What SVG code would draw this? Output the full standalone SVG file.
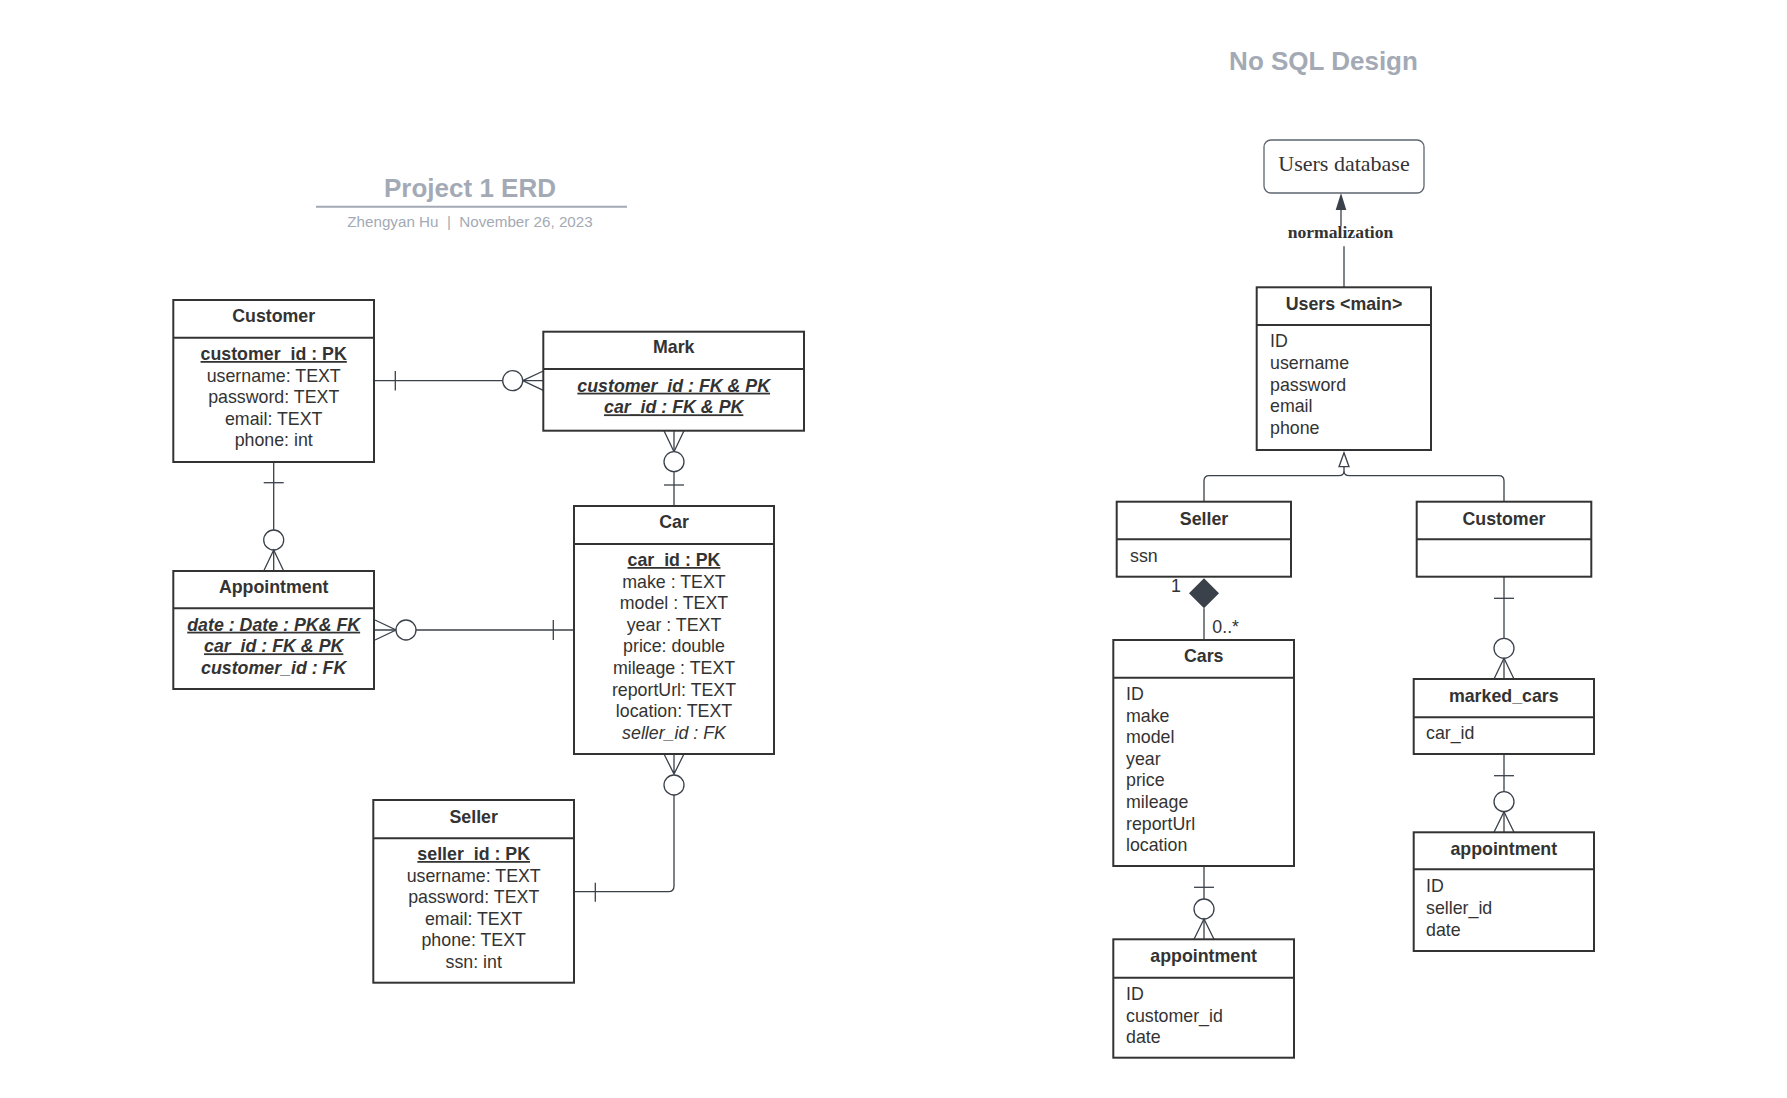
<svg xmlns="http://www.w3.org/2000/svg" width="1787" height="1098" viewBox="0 0 1787 1098">
<style>
.bg{fill:#ffffff}
.box{fill:#ffffff;stroke:#333333;stroke-width:2}
.hdr{stroke:#333333;stroke-width:2}
.t{font-family:"Liberation Sans",Arial,sans-serif;font-size:17.8px;fill:#333333}
.ttl{font-weight:bold;text-anchor:middle}
.c{text-anchor:middle}
.b{font-weight:bold}
.i{font-style:italic}
.u{text-decoration:underline}
.big{font-family:"Liberation Sans",Arial,sans-serif;font-size:26px;font-weight:bold;fill:#a3aab5;text-anchor:middle}
.sub{font-family:"Liberation Sans",Arial,sans-serif;font-size:15.2px;fill:#a3aab5;text-anchor:middle;white-space:pre}
.ln{fill:none;stroke:#3a414a;stroke-width:1.3}
.cir{fill:#ffffff;stroke:#3a414a;stroke-width:1.3}
.serif{font-family:"Liberation Serif","Times New Roman",serif;fill:#333333;text-anchor:middle}
</style>
<rect class="bg" x="0" y="0" width="1787" height="1098"/>

<g id="title-erd">
<text class="big" x="470" y="197.3">Project 1 ERD</text>
<line x1="316" y1="206.7" x2="627" y2="206.7" stroke="#a3aab5" stroke-width="2"/>
<text class="sub" x="470" y="227.3" xml:space="preserve">Zhengyan Hu  |  November 26, 2023</text>
</g>
<g id="title-nosql">
<text class="big" x="1323.5" y="70">No SQL Design</text>
</g>

<g id="connectors">
<!-- Customer - Mark -->
<line class="ln" x1="374" y1="380.7" x2="543.3" y2="380.7"/>
<line class="ln" x1="395.3" y1="371" x2="395.3" y2="390.5"/>
<circle class="cir" cx="512.7" cy="380.7" r="10"/>
<path class="ln" d="M522.7,380.7 L543.3,371 M522.7,380.7 L543.3,390.4"/>
<!-- Mark - Car -->
<line class="ln" x1="674" y1="430.7" x2="674" y2="506"/>
<path class="ln" d="M664,430.7 L674,451.7 L684,430.7"/>
<circle class="cir" cx="674" cy="461.7" r="10"/>
<line class="ln" x1="664" y1="485" x2="684" y2="485"/>
<!-- Customer - Appointment -->
<line class="ln" x1="273.7" y1="462" x2="273.7" y2="571"/>
<line class="ln" x1="263.7" y1="482.7" x2="283.7" y2="482.7"/>
<circle class="cir" cx="273.7" cy="540" r="10"/>
<path class="ln" d="M263.7,571 L273.7,550 L283.7,571"/>
<!-- Appointment - Car -->
<line class="ln" x1="374" y1="630" x2="574" y2="630"/>
<path class="ln" d="M375,620 L396,630 L375,640"/>
<circle class="cir" cx="406" cy="630" r="10"/>
<line class="ln" x1="553.3" y1="620" x2="553.3" y2="640"/>
<!-- Car - Seller -->
<path class="ln" d="M664,754 L674,774 L684,754 M674,754 V774"/>
<circle class="cir" cx="674" cy="785" r="10"/>
<path class="ln" d="M674,795 V886 Q674,891.7 668.3,891.7 H574"/>
<line class="ln" x1="595.3" y1="882.7" x2="595.3" y2="901.7"/>

<!-- normalization -->
<line class="ln" x1="1344" y1="288" x2="1344" y2="246.3" stroke-width="2"/>
<line class="ln" x1="1341" y1="226" x2="1341" y2="208" stroke-width="2"/>
<polygon points="1341,193 1335.7,210 1346.3,210" fill="#3a414a"/>
<text class="serif" x="1340.5" y="238.3" font-size="17.6px" font-weight="bold">normalization</text>
<!-- generalization -->
<path class="ln" d="M1204,501.7 V481 Q1204,475.7 1209.3,475.7 H1338.7 Q1344,475.7 1344,470.4 V466.7 M1504,501.7 V481 Q1504,475.7 1498.7,475.7 H1349.3 Q1344,475.7 1344,470.4"/>
<polygon points="1344,452.7 1339,466.7 1349,466.7" fill="#ffffff" stroke="#3a414a" stroke-width="1.3"/>
<!-- composition -->
<line class="ln" x1="1204" y1="608.3" x2="1204" y2="640"/>
<polygon points="1204,578.3 1219,593.3 1204,608.3 1189,593.3" fill="#3a414a"/>
<text class="t c" x="1176" y="591.7">1</text>
<text class="t" x="1212.3" y="632.7">0..*</text>
<!-- Customer - marked_cars -->
<line class="ln" x1="1504" y1="576.7" x2="1504" y2="679"/>
<line class="ln" x1="1494" y1="598.3" x2="1514" y2="598.3"/>
<circle class="cir" cx="1504" cy="648.3" r="10"/>
<path class="ln" d="M1494,679 L1504,658.3 L1514,679"/>
<!-- Cars - appointment -->
<line class="ln" x1="1204" y1="866" x2="1204" y2="939.3"/>
<line class="ln" x1="1194" y1="887.3" x2="1214" y2="887.3"/>
<circle class="cir" cx="1204" cy="909" r="10"/>
<path class="ln" d="M1194,939.3 L1204,919 L1214,939.3"/>
<!-- marked_cars - appointment -->
<line class="ln" x1="1504" y1="754" x2="1504" y2="832.3"/>
<line class="ln" x1="1494" y1="775.7" x2="1514" y2="775.7"/>
<circle class="cir" cx="1504" cy="801.7" r="10"/>
<path class="ln" d="M1494,832.3 L1504,811.7 L1514,832.3"/>
</g>

<g id="customer">
<rect class="box" x="173.3" y="300" width="200.7" height="162"/>
<line class="hdr" x1="173.3" y1="337.7" x2="374" y2="337.7"/>
<text class="t ttl" x="273.7" y="322">Customer</text>
<text class="t c b u" x="273.7" y="360">customer_id : PK</text>
<text class="t c" x="273.7" y="381.6">username: TEXT</text>
<text class="t c" x="273.7" y="403.2">password: TEXT</text>
<text class="t c" x="273.7" y="424.8">email: TEXT</text>
<text class="t c" x="273.7" y="446.4">phone: int</text>
</g>

<g id="mark">
<rect class="box" x="543.3" y="331.7" width="260.7" height="99"/>
<line class="hdr" x1="543.3" y1="369" x2="804" y2="369"/>
<text class="t ttl" x="673.7" y="353.3">Mark</text>
<text class="t c b i u" x="673.7" y="391.7">customer_id : FK &amp; PK</text>
<text class="t c b i u" x="673.7" y="413.3">car_id : FK &amp; PK</text>
</g>

<g id="car">
<rect class="box" x="574" y="506" width="200" height="248"/>
<line class="hdr" x1="574" y1="544" x2="774" y2="544"/>
<text class="t ttl" x="674" y="528.3">Car</text>
<text class="t c b u" x="674" y="566">car_id : PK</text>
<text class="t c" x="674" y="587.6">make : TEXT</text>
<text class="t c" x="674" y="609.2">model : TEXT</text>
<text class="t c" x="674" y="630.8">year : TEXT</text>
<text class="t c" x="674" y="652.4">price: double</text>
<text class="t c" x="674" y="674">mileage : TEXT</text>
<text class="t c" x="674" y="695.6">reportUrl: TEXT</text>
<text class="t c" x="674" y="717.2">location: TEXT</text>
<text class="t c i" x="674" y="738.8">seller_id : FK</text>
</g>

<g id="appointment">
<rect class="box" x="173.3" y="571" width="200.7" height="118"/>
<line class="hdr" x1="173.3" y1="608.3" x2="374" y2="608.3"/>
<text class="t ttl" x="273.7" y="593.3">Appointment</text>
<text class="t c b i u" x="273.7" y="630.7">date : Date : PK&amp; FK</text>
<text class="t c b i u" x="273.7" y="652.3">car_id : FK &amp; PK</text>
<text class="t c b i" x="273.7" y="673.9">customer_id : FK</text>
</g>

<g id="seller">
<rect class="box" x="373.3" y="800" width="200.7" height="182.7"/>
<line class="hdr" x1="373.3" y1="838.3" x2="574" y2="838.3"/>
<text class="t ttl" x="473.7" y="822.7">Seller</text>
<text class="t c b u" x="473.7" y="860">seller_id : PK</text>
<text class="t c" x="473.7" y="881.6">username: TEXT</text>
<text class="t c" x="473.7" y="903.2">password: TEXT</text>
<text class="t c" x="473.7" y="924.8">email: TEXT</text>
<text class="t c" x="473.7" y="946.4">phone: TEXT</text>
<text class="t c" x="473.7" y="968">ssn: int</text>
</g>

<g id="users-database">
<rect x="1264" y="140" width="160" height="53" rx="7" fill="#ffffff" stroke="#5e6570" stroke-width="1.3"/>
<text class="serif" x="1344" y="170.5" font-size="22px">Users database</text>
</g>

<g id="users-main">
<rect class="box" x="1256.7" y="287.3" width="174.3" height="162.7"/>
<line class="hdr" x1="1256.7" y1="325" x2="1431" y2="325"/>
<text class="t ttl" x="1344" y="310">Users &lt;main&gt;</text>
<text class="t" x="1270" y="347.3">ID</text>
<text class="t" x="1270" y="368.9">username</text>
<text class="t" x="1270" y="390.5">password</text>
<text class="t" x="1270" y="412.1">email</text>
<text class="t" x="1270" y="433.7">phone</text>
</g>

<g id="nosql-seller">
<rect class="box" x="1116.7" y="501.7" width="174.3" height="75"/>
<line class="hdr" x1="1116.7" y1="539.3" x2="1291" y2="539.3"/>
<text class="t ttl" x="1204" y="525">Seller</text>
<text class="t" x="1130" y="561.7">ssn</text>
</g>

<g id="nosql-customer">
<rect class="box" x="1416.7" y="501.7" width="174.6" height="75"/>
<line class="hdr" x1="1416.7" y1="539.3" x2="1591.3" y2="539.3"/>
<text class="t ttl" x="1504" y="525">Customer</text>
</g>

<g id="cars">
<rect class="box" x="1113.3" y="640" width="180.7" height="226"/>
<line class="hdr" x1="1113.3" y1="677.7" x2="1294" y2="677.7"/>
<text class="t ttl" x="1203.7" y="662.3">Cars</text>
<text class="t" x="1126" y="700">ID</text>
<text class="t" x="1126" y="721.6">make</text>
<text class="t" x="1126" y="743.2">model</text>
<text class="t" x="1126" y="764.8">year</text>
<text class="t" x="1126" y="786.4">price</text>
<text class="t" x="1126" y="808">mileage</text>
<text class="t" x="1126" y="829.6">reportUrl</text>
<text class="t" x="1126" y="851.2">location</text>
</g>

<g id="appointment-left">
<rect class="box" x="1113.3" y="939.3" width="180.7" height="118.4"/>
<line class="hdr" x1="1113.3" y1="977.7" x2="1294" y2="977.7"/>
<text class="t ttl" x="1203.7" y="962.3">appointment</text>
<text class="t" x="1126" y="1000">ID</text>
<text class="t" x="1126" y="1021.6">customer_id</text>
<text class="t" x="1126" y="1043.2">date</text>
</g>

<g id="marked-cars">
<rect class="box" x="1413.7" y="679" width="180.3" height="75"/>
<line class="hdr" x1="1413.7" y1="717.3" x2="1594" y2="717.3"/>
<text class="t ttl" x="1503.8" y="701.7">marked_cars</text>
<text class="t" x="1426" y="739">car_id</text>
</g>

<g id="appointment-right">
<rect class="box" x="1413.7" y="832.3" width="180.3" height="118.7"/>
<line class="hdr" x1="1413.7" y1="869.3" x2="1594" y2="869.3"/>
<text class="t ttl" x="1503.8" y="855">appointment</text>
<text class="t" x="1426" y="892.3">ID</text>
<text class="t" x="1426" y="913.9">seller_id</text>
<text class="t" x="1426" y="935.5">date</text>
</g>
</svg>
